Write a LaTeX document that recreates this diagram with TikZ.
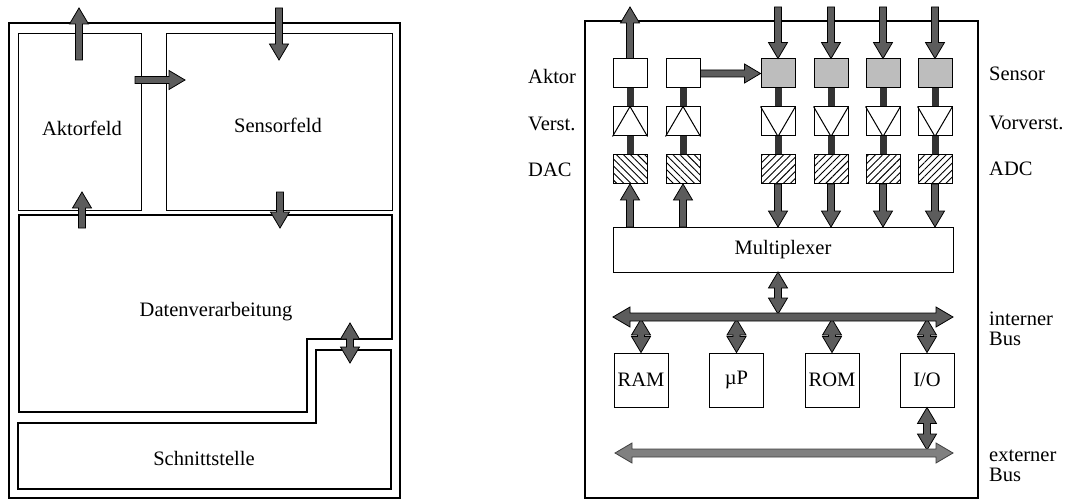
\documentclass[tikz,border=0pt]{standalone}
\usepackage{fontspec}
\setmainfont{Liberation Serif}
\usetikzlibrary{calc,patterns.meta}
\definecolor{arrfill}{gray}{0.36}
\definecolor{arrlight}{gray}{0.5}
\definecolor{sensfill}{gray}{0.74}
\tikzset{
  fat/.style={draw=black, fill=arrfill, line width=0.8pt, line join=miter},
  fatlight/.style={draw=black!75, fill=arrlight, line width=0.8pt, line join=miter},
  frame/.style={draw, line width=1.3pt},
  field/.style={draw, line width=1.2pt},
  blk/.style={draw, line width=1pt, minimum width=34pt, minimum height=29pt, inner sep=0pt},
  membox/.style={draw, line width=1pt, minimum width=54pt, minimum height=54pt, inner sep=0pt},
  amp/.style={line width=1pt, line join=miter},
  lbl/.style={anchor=west, inner sep=0pt, align=left},
  txt/.style={inner sep=0pt},
  link/.style={line width=7pt, draw=black!80},
  dachatch/.style={pattern={Lines[angle=-45, distance=5pt, line width=0.9pt]}},
  adchatch/.style={pattern={Lines[angle=45, distance=5pt, line width=0.9pt]}},
}
\def\fasw{3.5}\def\fahw{9.5}\def\fahl{16}
\newcommand\sarrow[3][]{%
  \path[fat,#1] let \p1=($(#3)-(#2)$), \n1={veclen(\x1,\y1)}, \n2={atan2(\y1,\x1)} in
   [shift={(#2)}, rotate=\n2]
   (0,-\fasw) -- ({\n1-\fahl},-\fasw) -- ({\n1-\fahl},-\fahw) -- (\n1,0)
   -- ({\n1-\fahl},\fahw) -- ({\n1-\fahl},\fasw) -- (0,\fasw) -- cycle;}
\newcommand\darrow[3][]{%
  \path[fat,#1] let \p1=($(#3)-(#2)$), \n1={veclen(\x1,\y1)}, \n2={atan2(\y1,\x1)} in
   [shift={(#2)}, rotate=\n2]
   (\fahl,-\fasw) -- ({\n1-\fahl},-\fasw) -- ({\n1-\fahl},-\fahw) -- (\n1,0)
   -- ({\n1-\fahl},\fahw) -- ({\n1-\fahl},\fasw) -- (\fahl,\fasw) -- (\fahl,\fahw)
   -- (0,0) -- (\fahl,-\fahw) -- cycle;}
\begin{document}
\begin{tikzpicture}[x=1pt, y=-1pt, font=\fontsize{20.5}{20}\selectfont]
\useasboundingbox (0,0) rectangle (1068,500);

% ================= LEFT PANEL =================
\draw[frame] (9,23) rectangle (400,498);
\node[field, anchor=north west, minimum width=123pt, minimum height=177pt, inner sep=0pt] (akt) at (18,33) {};
\node[field, anchor=north west, minimum width=226pt, minimum height=177pt, inner sep=0pt] (sen) at (166,33) {};
\draw[field] (19,215) -- (392,215) -- (392,339) -- (307,339) -- (307,412) -- (19,412) -- cycle;
\draw[field] (18,423) -- (316,423) -- (316,350) -- (391,350) -- (391,489) -- (18,489) -- cycle;
\node[txt] (aktT) at (82,128) {Aktorfeld};
\node[txt] (senT) at (278,125) {Sensorfeld};
\node[txt] (datT) at (216,312) {Datenverarbeitung};
\node[txt] (schT) at (204,458) {Schnittstelle};

\coordinate (la1) at (79,60);   \coordinate (la2) at (79,8);
\coordinate (ls1) at (279,8);   \coordinate (ls2) at (279,60);
\coordinate (lh1) at (135,80);  \coordinate (lh2) at (185,80);
\coordinate (lu1) at (82,228);  \coordinate (lu2) at (82,192);
\coordinate (ld1) at (280,192); \coordinate (ld2) at (280,228);
\coordinate (lb1) at (350,323); \coordinate (lb2) at (350,363);
\sarrow{la1}{la2}
\sarrow{ls1}{ls2}
\sarrow{lh1}{lh2}
\sarrow{lu1}{lu2}
\sarrow{ld1}{ld2}
\darrow{lb1}{lb2}

% ================= RIGHT PANEL =================
\draw[frame] (585,21) rectangle (978,498);

% actor columns
\foreach \i/\x in {1/630, 2/683} {
  \node[blk] (a\i) at (\x,73.5) {};
  \node[blk] (v\i) at (\x,121.5) {};
  \node[blk, dachatch] (d\i) at (\x,169) {};
  \draw[amp] (v\i.south west) -- (v\i.north) -- (v\i.south east);
  \draw[link] (a\i.south) -- (v\i.north);
  \draw[link] (v\i.south) -- (d\i.north);
}
% sensor columns
\foreach \i/\x in {1/778, 2/831, 3/883, 4/935} {
  \node[blk, fill=sensfill] (s\i) at (\x,73.5) {};
  \node[blk] (vv\i) at (\x,121.5) {};
  \node[blk, adchatch] (ad\i) at (\x,169) {};
  \draw[amp] (vv\i.north west) -- (vv\i.south) -- (vv\i.north east);
  \draw[link] (s\i.south) -- (vv\i.north);
  \draw[link] (vv\i.south) -- (ad\i.north);
}

\node[draw, line width=1pt, minimum width=340pt, minimum height=45pt, inner sep=0pt] (mux) at (783,249.5) {Multiplexer};

% top arrows
\coordinate (a1out) at (630,7);
\sarrow{a1.north}{a1out}
\foreach \i/\x in {1/778, 2/831, 3/883, 4/935} {
  \coordinate (sin\i) at (\x,7);
  \sarrow{sin\i}{s\i.north}
}
\sarrow{a2.east}{s1.west}

% converter <-> multiplexer
\foreach \i/\x in {1/630, 2/683} {
  \coordinate (dm\i) at (\x,227);
  \sarrow{dm\i}{d\i.south}
}
\foreach \i/\x in {1/778, 2/831, 3/883, 4/935} {
  \coordinate (am\i) at (\x,227);
  \sarrow{ad\i.south}{am\i}
}

% internal bus
\coordinate (ib1) at (613,317); \coordinate (ib2) at (953,317);
\coordinate (mb1) at (778,272); \coordinate (mb2) at (778,314);
\darrow{mb1}{mb2}

\node[membox] (ram) at (641,380) {RAM};
\node[membox] (up) at (736.5,380) {µP};
\node[membox] (rom) at (832,380) {ROM};
\node[membox] (io) at (927,380) {I/O};

\foreach \m/\x in {ram/641, up/736.5, rom/832, io/927} {
  \coordinate (bt\m) at (\x,319);
  \darrow{bt\m}{\m.north}
}
{\def\fasw{4}\def\fahw{10}\def\fahl{17}
\darrow{ib1}{ib2}
}

% external bus
\coordinate (eb1) at (615,453); \coordinate (eb2) at (953,453);
\coordinate (ioe) at (927,450);
\darrow{io.south}{ioe}
{\def\fasw{4}\def\fahw{10}\def\fahl{17}
\darrow[fatlight]{eb1}{eb2}
}

% labels
\node[lbl] (lAktor) at (528,76) {Aktor};
\node[lbl] (lVerst) at (528,124) {Verst.};
\node[lbl] (lDAC) at (528,170) {DAC};
\node[lbl] (lSensor) at (989,74) {Sensor};
\node[lbl] (lVor) at (989,123) {Vorverst.};
\node[lbl] (lADC) at (989,169) {ADC};
\node[lbl] (lint) at (989,329) {interner\\Bus};
\node[lbl] (lext) at (989,466) {externer\\Bus};
\end{tikzpicture}
\end{document}
